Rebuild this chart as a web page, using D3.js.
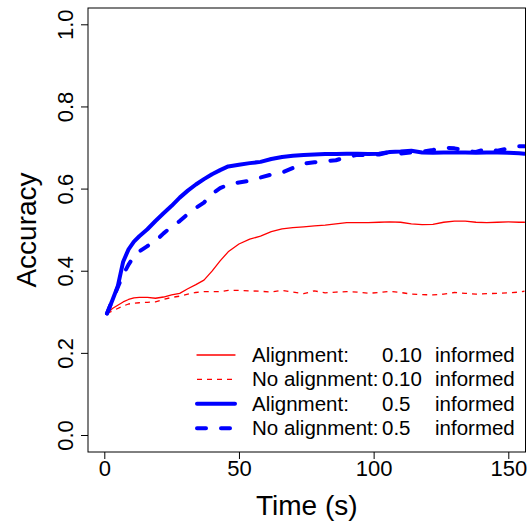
<!DOCTYPE html>
<html>
<head>
<meta charset="utf-8">
<script src="https://cdn.jsdelivr.net/npm/d3@7"></script>
<style>
  html, body { margin: 0; padding: 0; background: #fff; }
  svg text { font-family: "Liberation Sans", Arial, Helvetica, sans-serif; fill: #000; }
</style>
</head>
<body>
<svg id="chart" width="529" height="524"></svg>
<script>
// Time points (s)
const times = [1, 3, 5, 7, 9, 11, 13, 16, 19, 22, 25, 28, 31, 34, 37, 40, 43, 46, 50, 54,
  58, 62, 66, 70, 74, 78, 82, 86, 90, 94, 98, 102, 106, 110, 114, 118, 122, 126, 130, 134,
  138, 142, 146, 150, 154, 156];

// Mean accuracy for each condition
const alignInformed10 = [0.296, 0.308, 0.316, 0.324, 0.330, 0.334, 0.335, 0.335, 0.333, 0.336,
  0.341, 0.345, 0.356, 0.366, 0.377, 0.399, 0.424, 0.446, 0.465, 0.477,
  0.484, 0.495, 0.502, 0.505, 0.507, 0.509, 0.511, 0.514, 0.517, 0.517,
  0.517, 0.518, 0.519, 0.518, 0.514, 0.512, 0.513, 0.518, 0.521, 0.521,
  0.518, 0.517, 0.518, 0.519, 0.518, 0.518];

const noAlignInformed10 = [0.296, 0.302, 0.308, 0.314, 0.319, 0.321, 0.322, 0.323, 0.324, 0.330,
  0.335, 0.338, 0.343, 0.347, 0.349, 0.349, 0.349, 0.352, 0.352, 0.351,
  0.350, 0.348, 0.352, 0.348, 0.344, 0.351, 0.346, 0.348, 0.349, 0.348,
  0.345, 0.347, 0.350, 0.347, 0.343, 0.342, 0.341, 0.343, 0.347, 0.345,
  0.343, 0.344, 0.345, 0.346, 0.348, 0.350];

const alignInformed50 = [0.296, 0.328, 0.362, 0.422, 0.452, 0.471, 0.484, 0.501, 0.521, 0.540,
  0.558, 0.578, 0.595, 0.610, 0.623, 0.635, 0.645, 0.654, 0.658, 0.662,
  0.665, 0.672, 0.677, 0.680, 0.682, 0.683, 0.684, 0.684, 0.685, 0.685,
  0.684, 0.685, 0.689, 0.690, 0.692, 0.688, 0.687, 0.688, 0.688, 0.688,
  0.687, 0.688, 0.688, 0.687, 0.686, 0.685];

const noAlignInformed50 = [0.296, 0.328, 0.360, 0.390, 0.415, 0.435, 0.447, 0.460, 0.472, 0.491,
  0.507, 0.521, 0.538, 0.553, 0.566, 0.587, 0.601, 0.610, 0.615, 0.619,
  0.627, 0.634, 0.639, 0.650, 0.661, 0.664, 0.667, 0.669, 0.677, 0.682,
  0.681, 0.683, 0.689, 0.685, 0.688, 0.690, 0.694, 0.700, 0.698, 0.692,
  0.689, 0.697, 0.692, 0.698, 0.703, 0.703];

// Axis ticks
const xTicks = [0, 50, 100, 150];
const yTicks = [0.0, 0.2, 0.4, 0.6, 0.8, 1.0];
const yTickLabels = ["0.0", "0.2", "0.4", "0.6", "0.8", "1.0"];

// Legend text
const legendNames = ["Alignment:", "No alignment:", "Alignment:", "No alignment:"];
const legendValues = ["0.10", "0.10", "0.5", "0.5"];
const legendSuffix = "informed";

const series = [
  { values: alignInformed10,   color: "#ff0000", width: 1.3, dash: null,      cap: "round" },
  { values: noAlignInformed10, color: "#ff0000", width: 1.3, dash: "5,5",     cap: "butt" },
  { values: alignInformed50,   color: "#0000ff", width: 4,   dash: null,      cap: "round" },
  { values: noAlignInformed50, color: "#0000ff", width: 4,   dash: "9,15",    cap: "round" }
];

const svg = d3.select("#chart");

// Plot region
const box = { left: 88, right: 525.5, top: 8, bottom: 452 };

const x = d3.scaleLinear().domain([0, 150]).range([104.3, 508.3]);
const y = d3.scaleLinear().domain([0, 1]).range([435, 24.3]);

svg.append("defs").append("clipPath").attr("id", "plotClip")
  .append("rect")
  .attr("x", box.left).attr("y", box.top)
  .attr("width", box.right - box.left).attr("height", box.bottom - box.top);

// Lines
const line = d3.line()
  .x((d, i) => x(times[i]))
  .y(d => y(d));

const lines = svg.append("g").attr("clip-path", "url(#plotClip)");
series.forEach(s => {
  lines.append("path")
    .datum(s.values)
    .attr("d", line)
    .attr("fill", "none")
    .attr("stroke", s.color)
    .attr("stroke-width", s.width)
    .attr("stroke-linejoin", "round")
    .attr("stroke-linecap", s.cap)
    .attr("stroke-dasharray", s.dash);
});

// Frame
svg.append("rect")
  .attr("x", box.left).attr("y", box.top)
  .attr("width", box.right - box.left).attr("height", box.bottom - box.top)
  .attr("fill", "none").attr("stroke", "#000").attr("stroke-width", 1);

// X axis
const xAxis = d3.axisBottom(x).tickValues(xTicks).tickSize(7).tickPadding(4)
  .tickFormat(d3.format("d"));
const gx = svg.append("g").attr("transform", `translate(0,${box.bottom})`).call(xAxis);
gx.select(".domain").remove();
gx.selectAll("text").attr("font-size", 22).attr("dy", null).attr("y", 24)
  .style("font-family", "'Liberation Sans', Arial, sans-serif");
gx.selectAll("line").attr("stroke", "#000");

// Y axis with vertical labels
const yAxis = d3.axisLeft(y).tickValues(yTicks).tickSize(7)
  .tickFormat((d, i) => yTickLabels[i]);
const gy = svg.append("g").attr("transform", `translate(${box.left},0)`).call(yAxis);
gy.select(".domain").remove();
gy.selectAll("line").attr("stroke", "#000");
gy.selectAll("text")
  .attr("font-size", 22)
  .attr("x", null).attr("dy", null)
  .attr("text-anchor", "middle")
  .attr("transform", "translate(-15,0) rotate(-90)")
  .style("font-family", "'Liberation Sans', Arial, sans-serif");

// Axis titles
svg.append("text")
  .attr("x", (box.left + box.right) / 2).attr("y", 515)
  .attr("text-anchor", "middle").attr("font-size", 28)
  .text("Time (s)");

svg.append("text")
  .attr("transform", `translate(36,${(box.top + box.bottom) / 2}) rotate(-90)`)
  .attr("text-anchor", "middle").attr("font-size", 28)
  .text("Accuracy");

// Legend
const legend = svg.append("g");
const rowY = d3.scaleLinear().domain([0, 3]).range([355, 428.3]);
series.forEach((s, i) => {
  const yy = rowY(i);
  legend.append("line")
    .attr("x1", 197).attr("x2", 235).attr("y1", yy).attr("y2", yy)
    .attr("stroke", s.color).attr("stroke-width", s.width)
    .attr("stroke-linecap", s.cap)
    .attr("stroke-dasharray", s.dash);
  legend.append("text").attr("x", 252).attr("y", yy + 6.8).attr("font-size", 20.5)
    .text(legendNames[i]);
  legend.append("text").attr("x", 382).attr("y", yy + 6.8).attr("font-size", 20.5)
    .text(legendValues[i]);
  legend.append("text").attr("x", 435).attr("y", yy + 6.8).attr("font-size", 20.5)
    .text(legendSuffix);
});
</script>
</body>
</html>
